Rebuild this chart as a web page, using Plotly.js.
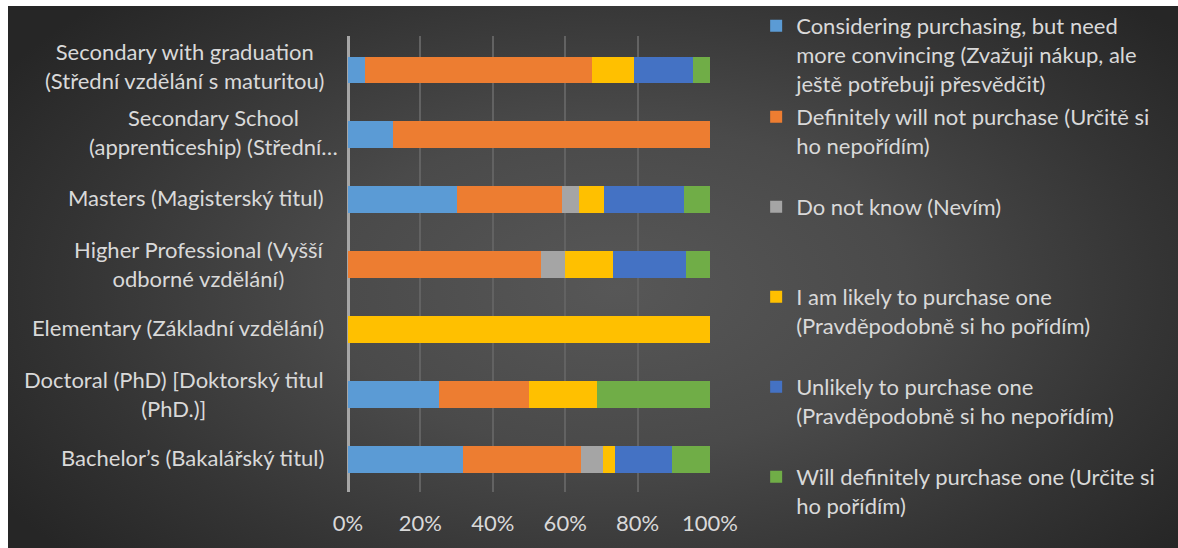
<!DOCTYPE html>
<html>
<head>
<meta charset="utf-8">
<script src="https://cdn.plot.ly/plotly-3.0.1.min.js"></script>
<style>
  html, body { margin: 0; padding: 0; background: #ffffff; }
  #bg { position: absolute; left: 8px; top: 6px; width: 1170px; height: 542px;
        background: radial-gradient(ellipse 62% 75% at 52% 52%, #575757 0%, #4a4a4a 40%, #343434 75%, #262626 100%); }
  #chart { position: absolute; left: 0; top: 0; width: 1178px; height: 548px; }
</style>
</head>
<body>
<div id="bg"></div>
<div id="chart"></div>
<script>
// Categories, bottom to top
const categories = [
  "Bachelor’s (Bakalářský titul)",
  "Doctoral (PhD) [Doktorský titul (PhD.)]",
  "Elementary (Základní vzdělání)",
  "Higher Professional (Vyšší odborné vzdělání)",
  "Masters (Magisterský titul)",
  "Secondary School (apprenticeship) (Střední…",
  "Secondary with graduation (Střední vzdělání s maturitou)"
];
const categoryLabels = [
  "Bachelor’s (Bakalářský titul)",
  "Doctoral (PhD) [Doktorský titul<br>(PhD.)]",
  "Elementary (Základní vzdělání)",
  "Higher Professional (Vyšší<br>odborné vzdělání)",
  "Masters (Magisterský titul)",
  "Secondary School<br>(apprenticeship) (Střední…",
  "Secondary with graduation<br>(Střední vzdělání s maturitou)"
];

// Percent values per series (same order as categories)
const considering    = [31.8, 25.0,   0,    0, 30.1, 12.5,  4.65];
const definitelyNot  = [32.7, 25.0,   0, 53.3, 28.9, 87.5, 62.8];
const doNotKnow      = [ 5.9,    0,   0,  6.7,  4.8,    0,    0];
const likely         = [ 3.4, 18.75, 100, 13.3,  6.9,    0, 11.6];
const unlikely       = [15.7,    0,   0, 20.0, 22.1,    0, 16.3];
const willDefinitely = [10.5, 31.25,  0,  6.7,  7.2,    0,  4.65];

const tickValues = [0, 20, 40, 60, 80, 100];
const tickLabels = ["0%", "20%", "40%", "60%", "80%", "100%"];

const seriesNames = [
  "Considering purchasing, but need<br>more convincing (Zvažuji nákup, ale<br>ještě potřebuji přesvědčit)",
  "Definitely will not purchase (Určitě si<br>ho nepořídím)",
  "Do not know (Nevím)",
  "I am likely to purchase one<br>(Pravděpodobně si ho pořídím)",
  "Unlikely to purchase one<br>(Pravděpodobně si ho nepořídím)",
  "Will definitely purchase one (Určite si<br>ho pořídím)"
];
const seriesValues = [considering, definitelyNot, doNotKnow, likely, unlikely, willDefinitely];
const seriesColors = ["#5b9bd5", "#ed7d31", "#a5a5a5", "#ffc000", "#4472c4", "#70ad47"];

const FONT = "Lato, 'Open Sans', sans-serif";
const TXT = "#d9d9d9";
const FS = 22;

const legendIds = ["legend", "legend2", "legend3", "legend4", "legend5", "legend6"];
const legendY = [1.068, 0.8684, 0.6711, 0.4737, 0.2763, 0.0789];
const labelYShift = [2, 1, 2, 1, 2, 3, 4];

const traces = seriesValues.map((vals, i) => ({
  type: "bar",
  orientation: "h",
  y: categories,
  x: vals,
  name: seriesNames[i],
  legend: legendIds[i],
  marker: { color: seriesColors[i], line: { width: 0 } },
  hoverinfo: "x+name"
}));

const annotations = categories.map((c, i) => ({
  xref: "paper", yref: "y",
  x: 0, y: c,
  xanchor: "right", yanchor: "middle",
  xshift: (i === 5 ? -8 : -22),
  yshift: labelYShift[i],
  text: categoryLabels[i],
  align: "center",
  showarrow: false,
  font: { family: FONT, size: FS, color: TXT }
}));

const layout = {
  width: 1178, height: 548,
  paper_bgcolor: "rgba(0,0,0,0)",
  plot_bgcolor: "rgba(0,0,0,0)",
  margin: { l: 348, r: 468, t: 36, b: 56, pad: 0, autoexpand: false },
  barmode: "stack",
  bargap: 0.585,
  showlegend: true,
  font: { family: FONT, size: FS, color: TXT },
  xaxis: {
    range: [0, 100],
    tickmode: "array",
    tickvals: tickValues,
    ticktext: tickLabels,
    showgrid: true, gridcolor: "#626262", gridwidth: 2,
    zeroline: true, zerolinecolor: "#a6a6a6", zerolinewidth: 3,
    showline: false, ticks: "",
    ticklabelstandoff: 16,
    tickfont: { family: FONT, size: FS, color: TXT },
    automargin: false,
    fixedrange: true
  },
  yaxis: {
    type: "category",
    categoryorder: "array", categoryarray: categories,
    showticklabels: false, showgrid: false, zeroline: false, ticks: "",
    automargin: false,
    fixedrange: true
  },
  annotations: annotations
};

legendIds.forEach((id, i) => {
  layout[id] = {
    x: 1.1275, y: legendY[i], xanchor: "left", yanchor: "top",
    valign: "top",
    bgcolor: "rgba(0,0,0,0)",
    font: { family: FONT, size: FS, color: TXT }
  };
});

Plotly.newPlot("chart", traces, layout, { displayModeBar: false, staticPlot: true });
</script>
</body>
</html>
